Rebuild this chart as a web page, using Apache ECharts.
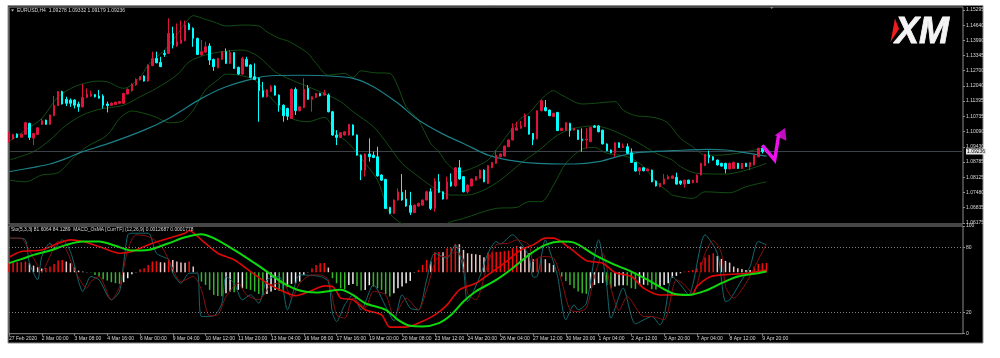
<!DOCTYPE html>
<html><head><meta charset="utf-8">
<style>html,body{margin:0;padding:0;background:#fff}#c{width:1000px;height:358px;filter:blur(0.4px)}</style>
<script src="https://cdn.jsdelivr.net/npm/echarts@6/dist/echarts.min.js"></script>
</head><body><div id="c"></div>
<script>
const opens=[1.0966,1.0977,1.0998,1.0985,1.0997,1.1044,1.0981,1.0997,1.1040,1.1058,
1.1040,1.1077,1.1120,1.1180,1.1147,1.1144,1.1144,1.1127,1.1115,1.1155,
1.1161,1.1167,1.1161,1.1161,1.1127,1.1121,1.1125,1.1130,1.1130,1.1170,
1.1184,1.1208,1.1230,1.1247,1.1225,1.1291,1.1322,1.1305,1.1344,1.1344,
1.1429,1.1375,1.1387,1.1398,1.1469,1.1451,1.1408,1.1337,1.1349,1.1375,
1.1318,1.1282,1.1318,1.1351,1.1301,1.1347,1.1284,1.1255,1.1318,1.1294,
1.1244,1.1237,1.1184,1.1158,1.1180,1.1204,1.1165,1.1122,1.1108,1.1065,
1.1190,1.1098,1.1112,1.1194,1.1147,1.1155,1.1172,1.1165,1.1165,1.1094,
1.0994,1.0984,1.0994,1.0994,1.1037,1.0994,1.0908,1.0844,1.0913,1.0908,
1.0901,1.0823,1.0804,1.0684,1.0659,1.0716,1.0749,1.0720,1.0692,1.0662,
1.0690,1.0694,1.0716,1.0751,1.0680,1.0794,1.0751,1.0720,1.0794,1.0776,
1.0854,1.0816,1.0751,1.0776,1.0801,1.0809,1.0844,1.0787,1.0854,1.0873,
1.0901,1.0904,1.0944,1.0973,1.1015,1.1023,1.1030,1.1073,1.1001,1.0978,
1.1098,1.1112,1.1101,1.1073,1.1091,1.1013,1.1015,1.1044,1.1015,1.1015,
1.0977,1.0973,1.0966,1.1033,1.1033,1.1015,1.0956,1.0930,1.0918,1.0961,
1.0941,1.0944,1.0918,1.0877,1.0840,1.0854,1.0841,1.0844,1.0797,1.0773,
1.0784,1.0806,1.0809,1.0813,1.0797,1.0784,1.0801,1.0790,1.0791,1.0823,
1.0863,1.0908,1.0901,1.0887,1.0873,1.0873,1.0849,1.0851,1.0873,1.0851,
1.0873,1.0859,1.0866,1.0901,1.0937,1.09278];
const closes=[1.1001,1.0997,1.0984,1.0998,1.1047,1.0984,1.1001,1.1025,1.1055,1.1040,
1.1080,1.1122,1.1180,1.1127,1.1130,1.1130,1.1122,1.1115,1.1155,1.1170,
1.1170,1.1158,1.1152,1.1122,1.1120,1.1131,1.1135,1.1138,1.1172,1.1190,
1.1212,1.1232,1.1244,1.1225,1.1294,1.1321,1.1304,1.1287,1.1339,1.1429,
1.1379,1.1394,1.1401,1.1465,1.1446,1.1408,1.1339,1.1351,1.1372,1.1315,
1.1287,1.1322,1.1351,1.1301,1.1347,1.1279,1.1255,1.1322,1.1289,1.1241,
1.1232,1.1184,1.1158,1.1187,1.1201,1.1165,1.1122,1.1077,1.1075,1.1190,
1.1098,1.1115,1.1190,1.1147,1.1158,1.1172,1.1162,1.1175,1.1094,1.0994,
1.0984,1.1004,1.1008,1.1040,1.0994,1.0908,1.0844,1.0913,1.0901,1.0898,
1.0819,1.0801,1.0680,1.0659,1.0716,1.0751,1.0716,1.0690,1.0663,1.0694,
1.0702,1.0716,1.0751,1.0680,1.0797,1.0749,1.0720,1.0794,1.0776,1.0854,
1.0806,1.0751,1.0780,1.0806,1.0816,1.0844,1.0794,1.0863,1.0877,1.0908,
1.0913,1.0947,1.0973,1.1023,1.1025,1.1033,1.1080,1.0998,1.0975,1.1098,
1.1141,1.1098,1.1077,1.1087,1.1013,1.1023,1.1047,1.1013,1.1023,1.0975,
1.0970,1.0977,1.1027,1.1027,1.1008,1.0956,1.0927,1.0918,1.0961,1.0941,
1.0947,1.0916,1.0877,1.0840,1.0854,1.0841,1.0849,1.0794,1.0776,1.0787,
1.0806,1.0816,1.0819,1.0784,1.0787,1.0801,1.0787,1.0801,1.0823,1.0873,
1.0911,1.0898,1.0887,1.0866,1.0861,1.0849,1.0873,1.0877,1.0851,1.0873,
1.0859,1.0876,1.0908,1.0937,1.0923,1.09236];
const lows=[1.0961,1.0975,1.0981,1.0984,1.0994,1.0973,1.0951,1.0994,1.1037,1.1038,
1.1037,1.1075,1.1118,1.1125,1.1118,1.1115,1.1108,1.1094,1.1112,1.1152,
1.1158,1.1155,1.1150,1.1108,1.1091,1.1118,1.1124,1.1127,1.1127,1.1168,
1.1180,1.1205,1.1228,1.1223,1.1222,1.1289,1.1301,1.1285,1.1329,1.1341,
1.1365,1.1372,1.1385,1.1395,1.1443,1.1372,1.1337,1.1334,1.1346,1.1294,
1.1269,1.1280,1.1315,1.1298,1.1298,1.1277,1.1251,1.1252,1.1287,1.1237,
1.1230,1.1051,1.1155,1.1155,1.1178,1.1163,1.1094,1.1051,1.1058,1.1063,
1.1080,1.1096,1.1110,1.1145,1.1094,1.1153,1.1160,1.1163,1.1091,1.0991,
1.0951,1.0982,1.0992,1.0992,1.0992,1.0906,1.0801,1.0816,1.0880,1.0895,
1.0816,1.0798,1.0677,1.0655,1.0656,1.0713,1.0713,1.0687,1.0652,1.0660,
1.0688,1.0692,1.0714,1.0673,1.0666,1.0746,1.0718,1.0718,1.0773,1.0773,
1.0803,1.0749,1.0744,1.0774,1.0799,1.0807,1.0792,1.0785,1.0852,1.0871,
1.0899,1.0902,1.0942,1.0971,1.1013,1.1021,1.1028,1.0996,1.0951,1.0976,
1.1096,1.1096,1.1075,1.1071,1.1011,1.1011,1.1013,1.0987,1.1013,1.0973,
1.0923,1.0937,1.0964,1.1025,1.1006,1.0954,1.0925,1.0916,1.0901,1.0939,
1.0939,1.0914,1.0875,1.0838,1.0823,1.0839,1.0839,1.0792,1.0774,1.0771,
1.0782,1.0804,1.0807,1.0782,1.0780,1.0769,1.0785,1.0788,1.0789,1.0821,
1.0861,1.0873,1.0885,1.0864,1.0859,1.0830,1.0847,1.0849,1.0849,1.0849,
1.0857,1.0844,1.0864,1.0899,1.0915,1.09179];
const highs=[1.1008,1.0998,1.1001,1.1000,1.1051,1.1047,1.1003,1.1027,1.1065,1.1060,
1.1082,1.1161,1.1183,1.1184,1.1158,1.1151,1.1147,1.1137,1.1212,1.1194,
1.1184,1.1170,1.1187,1.1168,1.1137,1.1134,1.1137,1.1140,1.1175,1.1194,
1.1216,1.1237,1.1247,1.1250,1.1297,1.1351,1.1351,1.1329,1.1358,1.1494,
1.1458,1.1472,1.1484,1.1484,1.1475,1.1455,1.1411,1.1401,1.1394,1.1387,
1.1321,1.1325,1.1353,1.1365,1.1358,1.1349,1.1287,1.1329,1.1329,1.1297,
1.1301,1.1240,1.1222,1.1190,1.1208,1.1207,1.1168,1.1125,1.1111,1.1194,
1.1198,1.1118,1.1237,1.1208,1.1160,1.1175,1.1175,1.1187,1.1172,1.1097,
1.1015,1.1006,1.1010,1.1042,1.1040,1.0997,1.0911,1.0915,1.0980,1.0923,
1.0944,1.0826,1.0807,1.0687,1.0718,1.0766,1.0827,1.0759,1.0751,1.0697,
1.0704,1.0718,1.0756,1.0766,1.0809,1.0827,1.0753,1.0816,1.0830,1.0857,
1.0887,1.0818,1.0783,1.0808,1.0818,1.0846,1.0847,1.0866,1.0879,1.0930,
1.0915,1.0949,1.0975,1.1044,1.1051,1.1055,1.1087,1.1076,1.1003,1.1100,
1.1147,1.1144,1.1103,1.1090,1.1093,1.1025,1.1049,1.1047,1.1025,1.1017,
1.1023,1.1023,1.1029,1.1037,1.1036,1.1017,1.0958,1.0932,1.0963,1.0963,
1.0958,1.0958,1.0937,1.0879,1.0856,1.0856,1.0851,1.0846,1.0799,1.0789,
1.0827,1.0824,1.0821,1.0833,1.0799,1.0803,1.0803,1.0803,1.0825,1.0875,
1.0913,1.0927,1.0903,1.0889,1.0875,1.0875,1.0877,1.0880,1.0875,1.0875,
1.0875,1.0878,1.0911,1.0940,1.0951,1.09332];
const bbUpper=[[0,1.0966],[4,1.1015],[8,1.1065],[12,1.1158],[16,1.1201],[20,1.1222],[22,1.1225],[24,1.1222],[28,1.1194],[32,1.1241],[34,1.1294],[38,1.1358],[41,1.1422],[43,1.1472],[45,1.1505],[48,1.1489],[50,1.1479],[53,1.1461],[57,1.1465],[61,1.1461],[63,1.1436],[66,1.1408],[68,1.1398],[70,1.1379],[73,1.1344],[75,1.1301],[78,1.1251],[82,1.1258],[84,1.1241],[86,1.1269],[89,1.1261],[93,1.1258],[95,1.1201],[97,1.1115],[100,1.1058],[103,1.0958],[105,1.0923],[107,1.0873],[110,1.0837],[113,1.0851],[117,1.0887],[119,1.0930],[122,1.1001],[125,1.1065],[127,1.1087],[130,1.1147],[133,1.1184],[135,1.1165],[140,1.1127],[143,1.1130],[148,1.1137],[150,1.1101],[153,1.1077],[156,1.1073],[159,1.1063],[161,1.1044],[164,1.0980],[167,1.0944],[170,1.0908],[173,1.0908],[178,1.0916],[182,1.0930],[185,1.0944]];
const bbMiddle=[[0,1.0887],[6,1.0923],[10,1.0973],[14,1.1037],[18,1.1080],[22,1.1104],[28,1.1122],[32,1.1158],[36,1.1194],[41,1.1251],[44,1.1308],[48,1.1337],[52,1.1351],[57,1.1358],[61,1.1329],[65,1.1265],[69,1.1230],[74,1.1194],[77,1.1172],[81,1.1137],[84,1.1094],[89,1.1030],[92,1.0966],[96,1.0873],[100,1.0816],[104,1.0766],[108,1.0737],[112,1.0737],[116,1.0759],[120,1.0801],[125,1.0873],[129,1.0923],[134,1.0994],[138,1.1023],[143,1.1033],[146,1.1023],[150,1.0994],[154,1.0958],[158,1.0916],[162,1.0887],[164,1.0859],[168,1.0830],[175,1.0827],[185,1.0873]];
const bbLower=[[0,1.0801],[4,1.0794],[8,1.0823],[12,1.0833],[16,1.0901],[19,1.0944],[24,1.0994],[27,1.1065],[30,1.1097],[33,1.1087],[36,1.1070],[39,1.1047],[42,1.1051],[45,1.1101],[48,1.1187],[51,1.1230],[53,1.1255],[56,1.1251],[60,1.1230],[63,1.1172],[66,1.1115],[69,1.1065],[73,1.1051],[77,1.1070],[80,1.1001],[83,1.0958],[87,1.0873],[90,1.0801],[93,1.0659],[96,1.0613],[99,1.0573],[102,1.0559],[106,1.0587],[107,1.0616],[111,1.0637],[119,1.0680],[124,1.0684],[127,1.0709],[130,1.0709],[133,1.0780],[136,1.0873],[140,1.0934],[143,1.0941],[146,1.0916],[151,1.0901],[155,1.0859],[158,1.0794],[161,1.0751],[162,1.0737],[167,1.0723],[170,1.0751],[176,1.0747],[180,1.0773],[185,1.0794]];
const maLine=[[0,1.0837],[6,1.0856],[10,1.0870],[14,1.0894],[18,1.0923],[24,1.0956],[33,1.1015],[39,1.1065],[47,1.1151],[53,1.1201],[60,1.1237],[64,1.1248],[71,1.1250],[77,1.1248],[84,1.1237],[89,1.1201],[95,1.1130],[100,1.1058],[106,1.0998],[111,1.0958],[117,1.0908],[122,1.0887],[129,1.0873],[138,1.0870],[144,1.0880],[149,1.0904],[154,1.0920],[162,1.0927],[171,1.0933],[175,1.0930],[180,1.0918],[185,1.0904]];
const stochMain=[[0,88.7],[2,88.7],[4,87.1],[5,65.5],[7,50],[8,71.6],[10,84],[11,79.4],[13,87.1],[15,76.3],[17,48.4],[18,39.2],[20,53.1],[22,50],[25,31.4],[27,39.2],[28,65.5],[29,91.8],[30,93.3],[34,93.3],[36,74.7],[39,68.6],[40,56.2],[42,46.9],[44,56.2],[46,56.2],[47,16],[50,16.6],[52,28.3],[53,53.1],[55,46.9],[57,31.4],[59,36.1],[61,28.3],[63,50],[66,53.1],[68,22.2],[70,46.9],[71,54.6],[76,53.1],[78,48.4],[79,19.1],[80,11.3],[82,26.8],[84,36.1],[86,22.2],[89,45.4],[92,25.3],[94,12],[96,36.1],[98,23.7],[100,22.2],[102,50],[104,74.7],[107,70.1],[109,82.5],[111,59.3],[112,29.9],[115,53.1],[117,74.7],[119,85.6],[120,83.4],[123,91.8],[125,84],[127,71.7],[128,52.5],[129,53.1],[131,87.1],[132,77.8],[134,53.1],[136,12.9],[138,26.8],[139,22.2],[141,28.3],[144,87.1],[146,43.8],[147,14.4],[150,42.3],[153,9.2],[157,16],[159,8.2],[160,16],[162,53.1],[164,45.4],[166,36.1],[170,91.8],[173,74.7],[175,29.9],[176,31.4],[179,50],[181,62.4],[183,85.6],[185,82.5]];
const stochSignal=[[0,88.7],[3,88.7],[4,84],[6,70.1],[8,57.7],[10,71.7],[12,85.6],[14,77.8],[16,59.3],[19,42.3],[20,48.4],[22,53.1],[25,31.4],[27,43.8],[29,77.8],[31,91.8],[34,90.2],[37,82.5],[39,68.6],[42,48.4],[45,53.1],[47,40.7],[49,16.6],[51,17.5],[53,34.5],[56,46.9],[58,36.1],[61,31.4],[64,45.4],[67,46.9],[69,33],[71,46.9],[74,54.6],[76,54.6],[78,50],[80,17.5],[82,14.4],[84,33],[87,24.6],[89,39.2],[92,36.1],[94,16],[97,33],[100,22.2],[102,40.7],[105,71.7],[107,71.7],[109,76.3],[111,68.6],[112,37.6],[114,31.4],[117,65.5],[119,82.5],[122,84],[124,87.1],[127,82.5],[128,67],[130,71.7],[133,70.1],[135,48.4],[137,22.2],[139,20.6],[141,23.7],[143,53.1],[145,74.7],[147,42.3],[149,21.6],[151,34.5],[155,16],[157,16],[160,12.9],[163,50],[165,45.4],[167,37],[170,74.7],[172,86.5],[174,74.7],[175,43.8],[177,33],[180,46.9],[183,68.6],[185,83.4]];
const macdRed=[[0,71],[3,76.3],[8,77.8],[12,84],[15,87.1],[18,85.6],[22,80.9],[27,74.7],[30,76.3],[35,84],[39,88.7],[43,93.3],[44,95.8],[47,87.1],[51,74.7],[55,68.6],[59,57.7],[63,46.9],[67,39.2],[70,35.2],[74,40.1],[77,44.4],[79,43.8],[80,39.2],[81,33],[84,31.4],[87,22.2],[91,17.5],[93,6.1],[97,6.1],[100,9.8],[104,17.5],[107,26.8],[110,40.7],[114,46.9],[117,54.6],[121,65.5],[125,77.8],[128,82.5],[131,88.7],[133,88.7],[137,79.4],[141,67.9],[145,65.5],[148,56.8],[152,53.1],[155,42.3],[159,36],[165,36],[167,37],[168,43.8],[171,52.5],[174,54.6],[179,55.6],[183,57.7],[185,59.3]];
const macdGreen=[[0,65.5],[3,69.2],[6,73.2],[10,77.2],[14,82.5],[18,85.6],[22,85.6],[26,81.6],[30,77.2],[34,77.8],[39,84],[43,89.6],[47,92.4],[50,88.7],[55,77.8],[60,65.5],[63,57.7],[67,46.9],[71,40.1],[75,38.2],[81,40.7],[84,36],[87,28.3],[92,22.2],[95,12.9],[98,7.3],[101,6.7],[105,9.8],[108,17.5],[111,29.9],[114,39.2],[119,50],[123,60.8],[127,73.2],[131,82.5],[135,85.6],[138,84.6],[143,73.2],[148,63.9],[152,57.7],[156,50],[162,37.6],[166,36],[170,39.8],[174,46.9],[178,53.1],[182,55.6],[185,57.7]];
const osma=[108,116,120,120,128,108,80,60,44,52,68,100,140,148,128,108,56,20,8,2,
-4,-32,-52,-84,-100,-120,-132,-140,-120,-72,-24,-4,36,48,88,128,132,120,116,160,
148,128,116,114,128,68,4,-112,-152,-212,-272,-284,-288,-252,-232,-240,-212,-192,-200,-212,
-232,-260,-276,-260,-232,-212,-224,-232,-172,-140,-132,-112,-32,-4,48,88,108,112,56,-72,
-132,-192,-204,-152,-140,-164,-220,-212,-156,-172,-192,-212,-260,-292,-252,-192,-172,-132,-104,-4,
28,88,148,128,240,244,240,288,296,340,336,268,228,220,216,208,180,236,240,244,
248,252,260,288,316,308,288,228,156,164,176,156,108,88,-2,-52,-104,-152,-192,-232,
-252,-260,-192,-152,-132,-130,-152,-192,-172,-160,-156,-160,-192,-200,-152,-150,-156,-204,-206,-172,
-152,-132,-64,-44,-12,8,16,28,48,120,180,208,228,196,160,136,116,68,48,40,
28,26,68,100,108,110];
const timeLabels=["27 Feb 2020","2 Mar 00:00","3 Mar 08:00","4 Mar 16:00","6 Mar 00:00","9 Mar 04:00","10 Mar 12:00","11 Mar 20:00","13 Mar 04:00","16 Mar 08:00","17 Mar 16:00","19 Mar 00:00","20 Mar 08:00","23 Mar 12:00","24 Mar 20:00","26 Mar 04:00","27 Mar 12:00","30 Mar 20:00","1 Apr 04:00","2 Apr 12:00","3 Apr 20:00","7 Apr 04:00","8 Apr 12:00","9 Apr 20:00"];
const priceTicks=[1.15295,1.14640,1.13990,1.13345,1.12700,1.12040,1.11395,1.10735,1.10090,1.09430,1.08785,1.08125,1.07480,1.06835,1.06175];
const stochTicks=[0,20,80,100];
const lastPrice=1.09236;
const arrowPath=[[183.6,1.0950],[186.5,1.0887],[188.4,1.0996]];
const arrowTip=[[188.8,1.1003]];
const headerMain="EURUSD,H4  1.09278 1.09332 1.09179 1.09236";
const headerSub="Sto(5,3,3) 81.6064 84.1289  MACD_OsMA [CurrTF] (12,26,9) 0.0012687 0.0001778";

const SLOTS=234, LABEL_STEP=8;
const cats=[];
for(let i=0;i<SLOTS;i++) cats.push(i%LABEL_STEP===0&&timeLabels[i/LABEL_STEP]?timeLabels[i/LABEL_STEP]:'');
const isTick=i=>i%LABEL_STEP===0&&i/LABEL_STEP<timeLabels.length;
const font='"Liberation Sans",sans-serif', txt='#d8d8d8', frame='#8c8c8c';
const osmaColor=(v,i)=>{const p=i?osma[i-1]:v;return v>=0?(v>=p?'#f20d0d':'#f2c6c6'):(v<p?'#35b52a':'#eeeeee');};
const line=(name,data,color,width,xi,yi,smooth)=>({name,type:'line',xAxisIndex:xi,yAxisIndex:yi,data,showSymbol:false,symbol:'none',smooth,clip:true,silent:true,lineStyle:{color,width},z:3});

const chart=echarts.init(document.getElementById('c'),null,{renderer:'canvas'});
chart.setOption({
 animation:false,backgroundColor:'#fff',
 grid:[{left:9,width:954,top:7,height:217,show:true,backgroundColor:'#000',borderColor:frame,borderWidth:1,z:1},
       {left:9,width:954,top:226,height:107.7,show:true,backgroundColor:'#000',borderColor:frame,borderWidth:1,z:1}],
 xAxis:[
  {type:'category',gridIndex:0,data:cats,boundaryGap:false,axisLine:{show:false},axisTick:{show:false},axisLabel:{show:false},splitLine:{show:false}},
  {type:'category',gridIndex:1,data:cats,boundaryGap:false,axisLine:{show:false},
   axisTick:{show:true,interval:isTick,length:2,lineStyle:{color:frame,width:1}},
   axisLabel:{show:true,interval:isTick,align:'left',margin:2,fontSize:5,fontFamily:font,color:txt,hideOverlap:false,showMinLabel:true},splitLine:{show:false}}],
 yAxis:[
  {type:'value',gridIndex:0,position:'right',min:1.06132,max:1.15423,scale:true,splitLine:{show:false},axisLine:{show:false},
   axisTick:{show:true,length:2,customValues:priceTicks,lineStyle:{color:frame}},
   axisLabel:{show:true,customValues:priceTicks,formatter:v=>v.toFixed(5),fontSize:5,fontFamily:font,color:txt,margin:3}},
  {type:'value',gridIndex:1,position:'right',min:0,max:100,splitLine:{show:false},axisLine:{show:false},
   axisTick:{show:true,length:2,customValues:stochTicks,lineStyle:{color:frame}},
   axisLabel:{show:true,customValues:stochTicks,fontSize:5,fontFamily:font,color:txt,margin:3,alignMinLabel:'bottom',alignMaxLabel:'top'}},
  {type:'value',gridIndex:1,show:false,min:-738,max:555,splitLine:{show:false}}],
 series:[
  line('BB upper',bbUpper,'#134d13',1,0,0,0.3),
  line('BB middle',bbMiddle,'#134d13',1,0,0,0.3),
  line('BB lower',bbLower,'#134d13',1,0,0,0.3),
  {name:'Last price',type:'line',xAxisIndex:0,yAxisIndex:0,data:[[0,lastPrice],[SLOTS-1,lastPrice]],symbol:'none',silent:true,z:3,clip:false,
   lineStyle:{color:'#3a424a',width:1},
   endLabel:{show:true,formatter:()=>lastPrice.toFixed(5),fontSize:5,fontFamily:font,color:'#000',backgroundColor:'#e8e8e8',padding:[1,1,0,1],distance:3}},
  {name:'EURUSD',type:'candlestick',xAxisIndex:0,yAxisIndex:0,barWidth:2,silent:true,clip:true,z:4,
   data:opens.map((o,i)=>[o,closes[i],lows[i],highs[i]]),
   itemStyle:{color:'#dc143c',color0:'#00ffff',borderColor:'#dc143c',borderColor0:'#00ffff',borderWidth:1}},
  line('MA',maLine,'#1c7f86',1.2,0,0,0.3),
  {name:'Forecast',type:'line',xAxisIndex:0,yAxisIndex:0,data:arrowPath,symbol:'none',silent:true,z:6,lineStyle:{color:'#ee11ee',width:3.5,join:'miter'}},
  {name:'Forecast tip',type:'scatter',xAxisIndex:0,yAxisIndex:0,data:arrowTip,symbol:'triangle',symbolSize:[13,11],symbolRotate:-25,silent:true,z:6,itemStyle:{color:'#ee11ee'}},
  {name:'OsMA',type:'bar',xAxisIndex:1,yAxisIndex:2,barWidth:1.5,silent:true,z:2,
   data:osma.map((v,i)=>({value:v,itemStyle:{color:osmaColor(v,i)}}))},
  {name:'Levels',type:'line',xAxisIndex:1,yAxisIndex:1,data:[],silent:true,
   markLine:{silent:true,symbol:'none',animation:false,label:{show:false},lineStyle:{color:'#808080',width:1,type:[1,2]},data:[{yAxis:80},{yAxis:20}]}},
  line('Sto main',stochMain,'#126a70',1,1,1,0.25),
  line('Sto signal',stochSignal,'#861010',1,1,1,0.25),
  line('MACD',macdRed,'#dd0808',1.6,1,1,0.25),
  line('Signal',macdGreen,'#0ed80e',2,1,1,0.3)
 ],
 graphic:[
  {type:'rect',z:-10,zlevel:0,silent:true,shape:{x:8,y:5.5,width:975,height:337.5},style:{fill:'#000',stroke:frame,lineWidth:1}},
  {type:'polygon',silent:true,z:50,shape:{points:[[11,9.5],[14,9.5],[12.5,11.5]]},style:{fill:'#ccc'}},
  {type:'text',silent:true,z:50,x:17,y:8,style:{text:headerMain,font:'5px '+font,fill:txt}},
  {type:'text',silent:true,z:50,x:11,y:227.5,style:{text:headerSub,font:'4.9px '+font,fill:txt}},
  {type:'polygon',silent:true,z:50,shape:{points:[[770,7],[773.5,7],[771.7,9]]},style:{fill:'#888'}},
  {type:'polygon',silent:true,z:50,shape:{points:[[895,18.5],[899,29],[890.5,42]]},style:{fill:'#ee1c1c'}},
  {type:'text',silent:true,z:50,x:895,y:15,style:{text:'XM',font:'italic 900 36px "Liberation Sans",sans-serif',fill:'#f4f4f4',stroke:'#f4f4f4',lineWidth:0.8}}
 ]
});
</script></body></html>
